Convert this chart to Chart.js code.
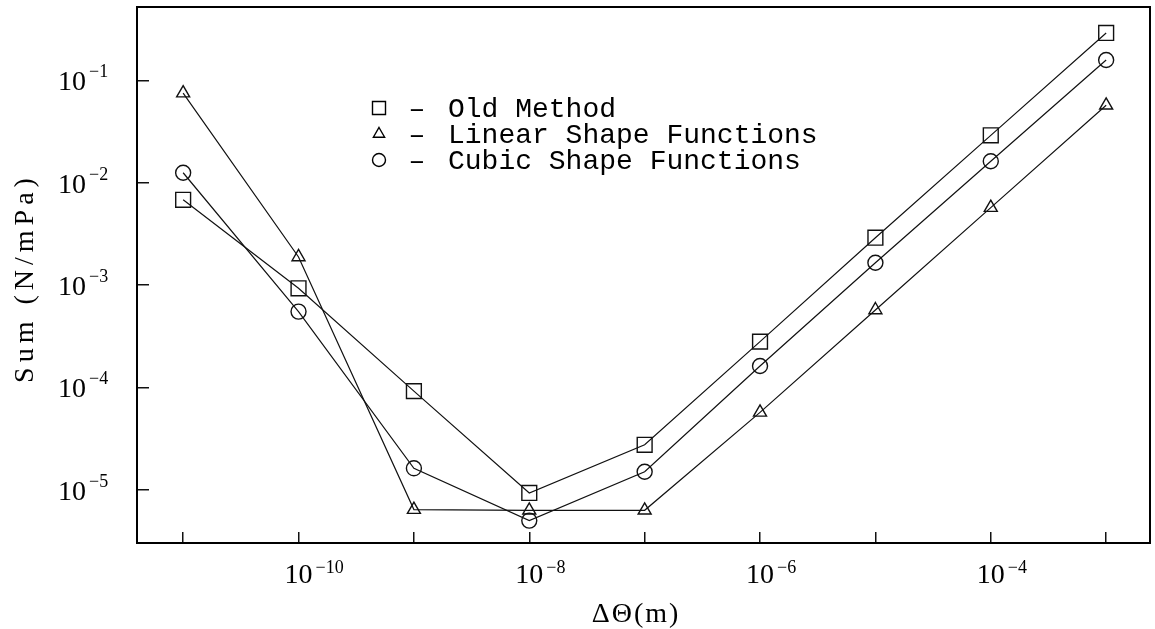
<!DOCTYPE html>
<html>
<head>
<meta charset="utf-8">
<script src="https://cdn.jsdelivr.net/npm/chart.js@4.4.1/dist/chart.umd.min.js"></script>
<style>
html,body{margin:0;padding:0;background:#fff;}
#wrap{width:1155px;height:629px;}
</style>
</head>
<body>
<div id="wrap"><canvas id="c" width="1155" height="629"></canvas></div>
<script>
// ---- data ----
const xValues = [1e-11, 1e-10, 1e-9, 1e-8, 1e-7, 1e-6, 1e-5, 1e-4, 1e-3];
const oldMethod = [6.8e-3, 9.3e-4, 9.2e-5, 9.3e-6, 2.75e-5, 2.8e-4, 2.9e-3, 2.9e-2, 0.29];
const linearShape = [0.075, 1.88e-3, 6.4e-6, 6.3e-6, 6.3e-6, 5.7e-5, 5.7e-4, 5.7e-3, 0.057];
const cubicShape = [0.0125, 5.5e-4, 1.62e-5, 5.0e-6, 1.5e-5, 1.62e-4, 1.65e-3, 1.62e-2, 0.158];
const seriesNames = ['Old Method', 'Linear Shape Functions', 'Cubic Shape Functions'];
const xTickExponents = [-11, -10, -9, -8, -7, -6, -5, -4, -3];
const xLabelExponents = [-10, -8, -6, -4];
const yTickExponents = [-5, -4, -3, -2, -1];
const yLabelExponents = [-5, -4, -3, -2, -1];
const xTitle = 'ΔΘ(m)';
const yTitle = 'Sum (N/mPa)';

const toPts = arr => arr.map((v, i) => ({x: xValues[i], y: v}));
const styles = ['rect', 'triangle', 'circle'];
const radii = [10.5, 7.5, 7.5];

const frameAndText = {
  id: 'frameAndText',
  afterDraw(chart) {
    const ctx = chart.ctx;
    const a = chart.chartArea;
    const xs = chart.scales.x, ys = chart.scales.y;
    ctx.save();
    // frame
    ctx.strokeStyle = '#000';
    ctx.lineWidth = 2;
    ctx.strokeRect(a.left, a.top, a.right - a.left, a.bottom - a.top);
    ctx.fillStyle = '#000';
    // y tick labels
    yLabelExponents.forEach(e => {
      const py = ys.getPixelForValue(Math.pow(10, e));
      ctx.font = '28px "Liberation Serif"';
      ctx.textAlign = 'right';
      ctx.textBaseline = 'alphabetic';
      ctx.fillText('10', 86, py + 10);
      ctx.font = '18px "Liberation Serif"';
      ctx.textAlign = 'left';
      ctx.fillText('\u2212' + Math.abs(e), 89, py - 3);
    });
    // x tick labels
    xLabelExponents.forEach(e => {
      const px = xs.getPixelForValue(Math.pow(10, e));
      ctx.font = '28px "Liberation Serif"';
      ctx.textAlign = 'center';
      ctx.textBaseline = 'alphabetic';
      ctx.fillText('10', px, 583);
      ctx.font = '18px "Liberation Serif"';
      ctx.textAlign = 'left';
      ctx.fillText('\u2212' + Math.abs(e), px + 17, 573);
    });
    // x title
    ctx.font = '28px "Liberation Serif"';
    ctx.textAlign = 'center';
    ctx.letterSpacing = '2px';
    ctx.fillText(xTitle, 636, 622);
    // y title
    ctx.save();
    ctx.translate(26, 281);
    ctx.rotate(-Math.PI / 2);
    ctx.font = '28px "Liberation Serif"';
    ctx.letterSpacing = '5px';
    ctx.textAlign = 'center';
    ctx.textBaseline = 'middle';
    ctx.fillText(yTitle, 3, 0);
    ctx.restore();
    ctx.letterSpacing = '0px';
    // legend
    const rows = [108, 134, 160];
    ctx.strokeStyle = '#000';
    ctx.lineWidth = 1.4;
    rows.forEach((cy, i) => {
      const mx = 379;
      ctx.beginPath();
      if (i === 0) {
        ctx.rect(mx - 6.5, cy - 6.5, 13, 13);
      } else if (i === 1) {
        const r = 6.5;
        ctx.moveTo(mx, cy - r);
        ctx.lineTo(mx + r * 0.866, cy + r / 2);
        ctx.lineTo(mx - r * 0.866, cy + r / 2);
        ctx.closePath();
      } else {
        ctx.arc(mx, cy, 6.5, 0, Math.PI * 2);
      }
      ctx.stroke();
      ctx.font = '28px "Liberation Mono"';
      ctx.textAlign = 'center';
      ctx.textBaseline = 'alphabetic';
      ctx.fillText('\u2013', 417, cy + 9);
      ctx.textAlign = 'left';
      ctx.fillText(seriesNames[i], 448, cy + 9);
    });
    ctx.restore();
  }
};

const datasets = [oldMethod, linearShape, cubicShape].map((arr, i) => ({
  label: seriesNames[i],
  data: toPts(arr),
  showLine: true,
  borderColor: '#111',
  borderWidth: 1.2,
  pointStyle: styles[i],
  pointRadius: radii[i],
  pointHoverRadius: radii[i],
  pointBorderColor: '#111',
  pointBorderWidth: 1.4,
  pointBackgroundColor: 'rgba(0,0,0,0)',
  backgroundColor: 'rgba(0,0,0,0)',
  fill: false,
  tension: 0
}));

new Chart(document.getElementById('c'), {
  type: 'scatter',
  data: {datasets},
  options: {
    responsive: false,
    devicePixelRatio: 1,
    animation: false,
    events: [],
    layout: {autoPadding: false, padding: {top: 7, right: 5, left: 0, bottom: 0}},
    plugins: {legend: {display: false}, tooltip: {enabled: false}},
    scales: {
      x: {
        type: 'logarithmic',
        position: 'bottom',
        min: Math.pow(10, -11.4),
        max: Math.pow(10, -2.62),
        afterBuildTicks: s => { s.ticks = xTickExponents.map(e => ({value: Math.pow(10, e)})); },
        afterFit: s => { s.height = 86; },
        ticks: {display: false},
        border: {display: false},
        grid: {display: true, drawOnChartArea: false, drawTicks: true, tickLength: -11, color: '#111', lineWidth: 1.5}
      },
      y: {
        type: 'logarithmic',
        position: 'left',
        min: Math.pow(10, -5.52),
        max: Math.pow(10, -0.284),
        afterBuildTicks: s => { s.ticks = yTickExponents.map(e => ({value: Math.pow(10, e)})); },
        afterFit: s => { s.width = 137; },
        ticks: {display: false},
        border: {display: false},
        grid: {display: true, drawOnChartArea: false, drawTicks: true, tickLength: -12, color: '#111', lineWidth: 1.5}
      }
    }
  },
  plugins: [frameAndText]
});
</script>
</body>
</html>
